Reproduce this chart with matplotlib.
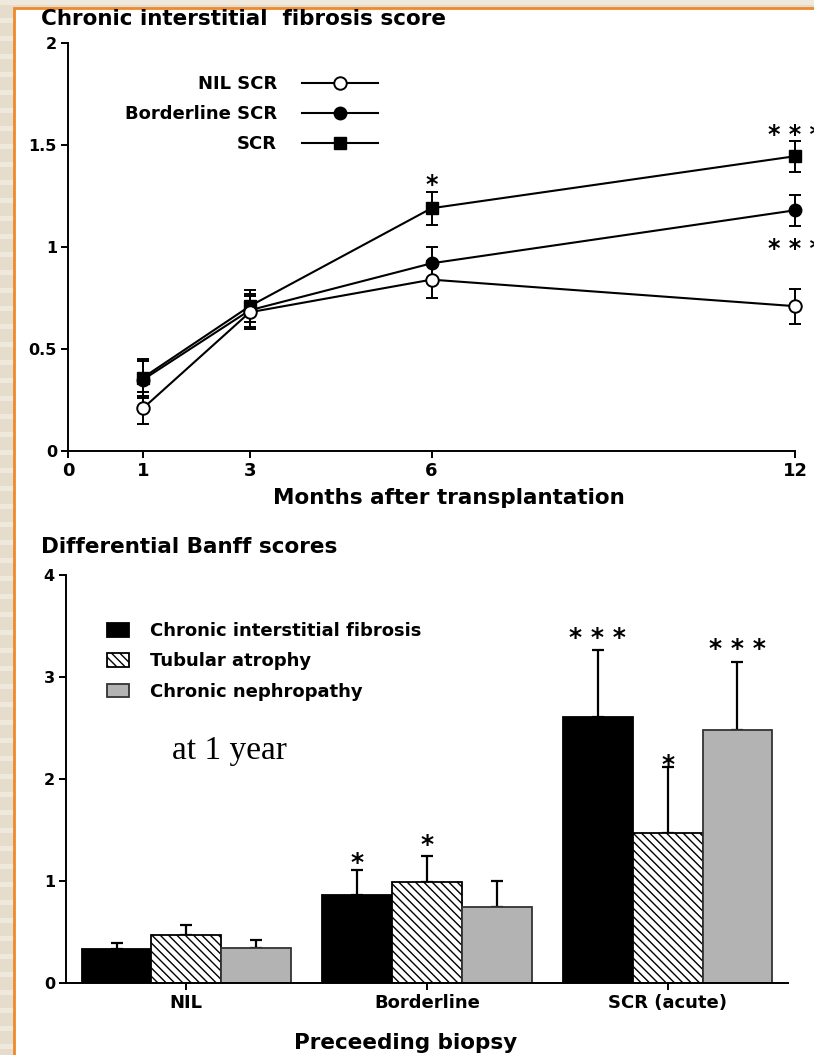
import numpy as np
import matplotlib
matplotlib.use("Agg")
import matplotlib.pyplot as plt
from matplotlib.patches import Rectangle

# ---------------- data ----------------
month_labels = ["1", "3", "6", "12"]
month_pos = [1.24, 3, 6, 12]          # plotted positions of the time points
xtick_pos = [0, 1.24, 3, 6, 12]
xtick_labels = ["0", "1", "3", "6", "12"]

nil_scr = [0.21, 0.68, 0.84, 0.71]
nil_scr_err = [0.08, 0.08, 0.09, 0.085]
border_scr = [0.35, 0.69, 0.92, 1.18]
border_scr_err = [0.09, 0.08, 0.08, 0.075]
scr = [0.36, 0.71, 1.19, 1.445]
scr_err = [0.09, 0.08, 0.08, 0.075]

top_star_x = [6, 12, 12]
top_star_y = [1.34, 1.585, 1.025]
top_star_txt = ["*", "* * *", "* * *"]

groups = ["NIL", "Borderline", "SCR (acute)"]
cif = [0.33, 0.86, 2.61]
cif_err = [0.06, 0.25, 0.65]
ta = [0.47, 0.99, 1.47]
ta_err = [0.10, 0.26, 0.65]
cn = [0.34, 0.75, 2.48]
cn_err = [0.08, 0.25, 0.67]

bar_stars = [  # (group index, series index, y, text)
    (1, 0, 1.24, "*"),
    (1, 1, 1.42, "*"),
    (2, 0, 3.45, "* * *"),
    (2, 1, 2.20, "*"),
    (2, 2, 3.34, "* * *"),
]

# ---------------- figure ----------------
W, H = 814, 1055
fig = plt.figure(figsize=(W / 100, H / 100), dpi=100)
fig.patch.set_facecolor("#e6dccb")

def fx(x):
    return x / W

def fy(y):
    return 1 - y / H

# striped beige background
for i, y0 in enumerate(range(0, H, 9)):
    if i % 2 == 0:
        fig.patches.append(Rectangle((0, fy(y0 + 5)), 1, 5 / H, transform=fig.transFigure,
                                     facecolor="#efe8dc", edgecolor="none", zorder=-20))
# white panel with orange border
fig.patches.append(Rectangle((fx(14), -0.01), 1.02, fy(8) + 0.01, transform=fig.transFigure,
                             facecolor="white", edgecolor="#ee8a2a", linewidth=2, zorder=-10))

FONT = "DejaVu Sans"
plt.rcParams["font.family"] = [FONT]
plt.rcParams["font.weight"] = "bold"

TITLE_FS = 15.5

# ---------------- top chart ----------------
ax1 = fig.add_axes([fx(68), fy(451), fx(795) - fx(68), fy(43) - fy(451)])
ax1.set_facecolor("none")
for s in ["top", "right"]:
    ax1.spines[s].set_visible(False)
for s in ["left", "bottom"]:
    ax1.spines[s].set_linewidth(1.4)
ax1.set_xlim(0, 12)
ax1.set_ylim(0, 2)
ax1.set_xticks(xtick_pos)
ax1.set_xticklabels(xtick_labels, fontsize=13, fontweight="bold")
ax1.set_yticks([0, 0.5, 1, 1.5, 2])
ax1.set_yticklabels(["0", "0.5", "1", "1.5", "2"], fontsize=11.5, fontweight="bold")
ax1.tick_params(direction="out", length=5, width=1.4, pad=3)

for vals, errs in [(nil_scr, nil_scr_err), (border_scr, border_scr_err), (scr, scr_err)]:
    ax1.errorbar(month_pos, vals, yerr=errs, fmt="none", ecolor="black",
                 elinewidth=1.4, capsize=4, capthick=1.4, clip_on=False, zorder=2)
ax1.plot(month_pos, scr, color="black", lw=1.5, marker="s", ms=9, mfc="black",
         mec="black", label="SCR", zorder=3, clip_on=False)
ax1.plot(month_pos, border_scr, color="black", lw=1.5, marker="o", ms=9, mfc="black",
         mec="black", label="Borderline SCR", zorder=4, clip_on=False)
ax1.plot(month_pos, nil_scr, color="black", lw=1.5, marker="o", ms=9, mfc="white",
         mec="black", mew=1.4, label="NIL SCR", zorder=5, clip_on=False)

for x, y, t in zip(top_star_x, top_star_y, top_star_txt):
    ax1.annotate(t, (x, y), xytext=(0, -10), textcoords="offset points", ha="center",
                 va="baseline", fontsize=17, fontweight="bold", annotation_clip=False)

h, l = ax1.get_legend_handles_labels()
order = [2, 1, 0]
ax1.legend([h[i] for i in order], [l[i] for i in order], loc="upper right",
           bbox_to_anchor=(fx(378), fy(75)), bbox_transform=fig.transFigure,
           frameon=False, markerfirst=False, handlelength=4.2,
           handletextpad=1.4, labelspacing=0.67, borderpad=0, borderaxespad=0,
           numpoints=1, prop={"weight": "bold", "size": 13})

fig.text(fx(41), fy(19), "Chronic interstitial  fibrosis score", fontsize=TITLE_FS,
         fontweight="bold", ha="left", va="center")
fig.text(fx(449), fy(498), "Months after transplantation", fontsize=TITLE_FS,
         fontweight="bold", ha="center", va="center")

# ---------------- bottom chart ----------------
ax2 = fig.add_axes([fx(66), fy(983), fx(788) - fx(66), fy(575) - fy(983)])
ax2.set_facecolor("none")
for s in ["top", "right"]:
    ax2.spines[s].set_visible(False)
for s in ["left", "bottom"]:
    ax2.spines[s].set_linewidth(1.4)
ax2.set_xlim(-0.5, 2.5)
ax2.set_ylim(0, 4)
x = np.arange(len(groups))
w = 0.29
series = [
    (cif, cif_err, dict(color="black", edgecolor="black"), "Chronic interstitial fibrosis"),
    (ta, ta_err, dict(color="white", edgecolor="black", hatch="\\\\\\\\"), "Tubular atrophy"),
    (cn, cn_err, dict(color="#b3b3b3", edgecolor="#333333"), "Chronic nephropathy"),
]
offsets = [-w, 0, w]
for (vals, errs, style, lab), off in zip(series, offsets):
    ax2.bar(x + off, vals, width=w, linewidth=1.3, label=lab, zorder=2, **style)
    ax2.errorbar(x + off, vals, yerr=[np.zeros(len(vals)), errs], fmt="none",
                 ecolor="black", elinewidth=1.6, capsize=4.5, capthick=1.6, zorder=1)

for gi, si, y, t in bar_stars:
    ax2.annotate(t, (x[gi] + offsets[si], y), xytext=(0, -10), textcoords="offset points",
                 ha="center", va="baseline", fontsize=18, fontweight="bold",
                 annotation_clip=False)

ax2.set_xticks(x)
ax2.set_xticklabels(groups, fontsize=13, fontweight="bold")
ax2.set_yticks([0, 1, 2, 3, 4])
ax2.set_yticklabels(["0", "1", "2", "3", "4"], fontsize=11.5, fontweight="bold")
ax2.tick_params(direction="out", length=5, width=1.4, pad=3)

ax2.legend(loc="upper left", bbox_to_anchor=(fx(107), fy(622)), bbox_transform=fig.transFigure,
           frameon=False, handlelength=1.22, handleheight=0.78, handletextpad=1.17,
           labelspacing=0.69, borderpad=0, borderaxespad=0,
           prop={"weight": "bold", "size": 13})

ax2.text(-0.06, 2.28, "at 1 year", fontsize=24, fontweight="normal",
         family=["Liberation Serif", "DejaVu Serif"], ha="left", va="center",
         transform=ax2.transData)

fig.text(fx(41), fy(547), "Differential Banff scores", fontsize=TITLE_FS,
         fontweight="bold", ha="left", va="center")
fig.text(fx(406), fy(1043), "Preceeding biopsy", fontsize=TITLE_FS,
         fontweight="bold", ha="center", va="center")

fig.savefig("out.png", dpi=100, facecolor=fig.get_facecolor())
